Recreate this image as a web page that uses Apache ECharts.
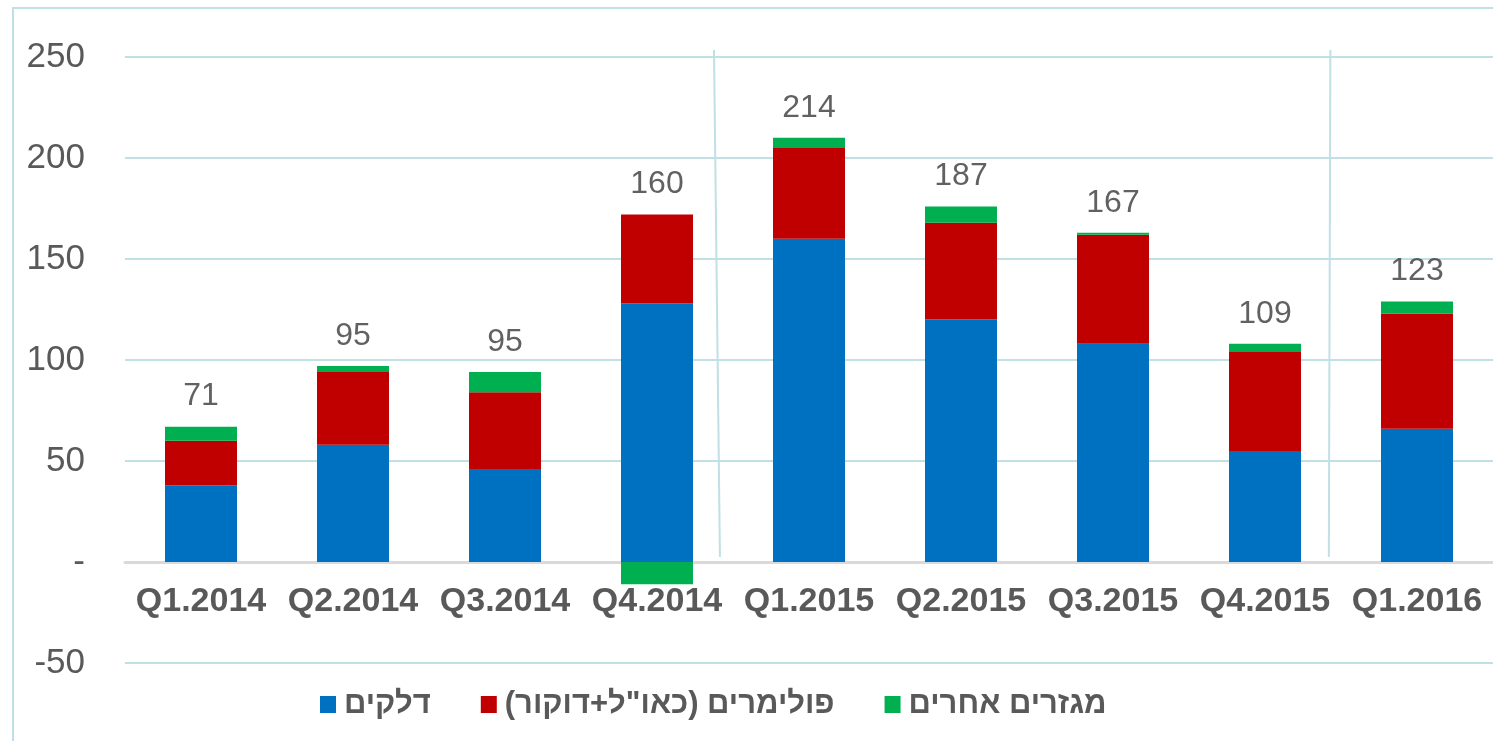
<!DOCTYPE html>
<html>
<head>
<meta charset="utf-8">
<script src="https://cdn.jsdelivr.net/npm/echarts@6/dist/echarts.min.js"></script>
<style>
    html, body {
        margin: 0;
        padding: 0;
        background: #fff;
    }

    .frame {
        position: absolute;
        left: 12px;
        top: 7px;
        width: 1500px;
        height: 760px;
        border-left: 2px solid #bfe0e5;
        border-top: 2px solid #bfe0e5;
    }

    #chart {
        position: absolute;
        left: 0;
        top: 0;
        width: 1493px;
        height: 741px;
    }
</style>
</head>
<body>
<div class="frame"></div>
<div id="chart"></div>
<script>
const quarters = ['Q1.2014', 'Q2.2014', 'Q3.2014', 'Q4.2014', 'Q1.2015', 'Q2.2015', 'Q3.2015', 'Q4.2015', 'Q1.2016']
const fuels = [38, 58, 46, 128, 160, 120, 108, 55, 66]
const polymers = [22, 36, 38, 44, 45, 48, 54, 49, 57]
const others = [7, 3, 10, -11, 5, 8, 1, 4, 6]
const totals = [71, 95, 95, 160, 214, 187, 167, 109, 123]
const yTicks = [-50, 0, 50, 100, 150, 200, 250]
const legendNames = ['דלקים', 'פולימרים (כאו"ל+דוקור)', 'מגזרים אחרים']
// separator lines between years, in (category index, value) units
const sep1 = [[3.375, 253.5], [3.414, 2.5]]
const sep2 = [[7.43, 253.5], [7.42, 2.5]]

const colors = ['#0070c0', '#c00000', '#00b050']
const gridColor = '#bfe0e5'
const textFont = '"Liberation Sans", Arial, sans-serif'

// label sits just above the positive part of the stack
const stackTops = quarters.map((q, i) => fuels[i] + polymers[i] + Math.max(others[i], 0))

const chart = echarts.init(document.getElementById('chart'))

const barSeries = [fuels, polymers, others].map((arr, i) => {
    return {
        name: legendNames[i],
        type: 'bar',
        stack: 'total',
        barWidth: 72,
        itemStyle: {color: colors[i]},
        data: arr
    }
})

function sepLine(data) {
    return {
        type: 'line',
        xAxisIndex: 1,
        silent: true,
        clip: false,
        symbol: 'none',
        lineStyle: {color: gridColor, width: 2},
        data: data
    }
}

// grid is 606px tall for 300 units -> zero line sits 101px above the bottom
const zeroOffset = -606 * (0 - yTicks[0]) / (yTicks[yTicks.length - 1] - yTicks[0])

const option = {
    backgroundColor: 'transparent',
    animation: false,
    grid: {
        left: 125,
        right: 0,
        top: 57,
        bottom: 78,
        containLabel: false
    },
    legend: {
        data: legendNames,
        bottom: 16,
        left: 315,
        icon: 'rect',
        itemWidth: 16,
        itemHeight: 17,
        itemGap: 50,
        textStyle: {
            fontFamily: textFont,
            fontSize: 31,
            fontWeight: 'bold',
            color: '#595959',
            padding: [0, 0, 0, 3]
        }
    },
    xAxis: [
        {
            type: 'category',
            data: quarters,
            position: 'bottom',
            offset: zeroOffset,
            axisTick: {show: false},
            axisLine: {onZero: false, lineStyle: {color: '#d9d9d9', width: 3}},
            axisLabel: {
                interval: 0,
                margin: 23,
                fontFamily: textFont,
                fontSize: 34,
                fontWeight: 'bold',
                color: '#595959'
            }
        },
        {
            type: 'value',
            show: false,
            min: -0.5,
            max: quarters.length - 0.5
        }
    ],
    yAxis: {
        type: 'value',
        min: yTicks[0],
        max: yTicks[yTicks.length - 1],
        interval: 50,
        axisLine: {show: false},
        axisTick: {show: false},
        splitLine: {lineStyle: {color: gridColor, width: 2}},
        axisLabel: {
            margin: 40,
            fontFamily: textFont,
            fontSize: 35,
            color: '#595959',
            formatter: v => v === 0 ? '-' : String(v)
        }
    },
    series: [
        ...barSeries,
        {
            type: 'scatter',
            silent: true,
            symbolSize: 0,
            data: stackTops,
            z: 5,
            label: {
                show: true,
                position: 'top',
                distance: 14,
                fontFamily: textFont,
                fontSize: 32,
                color: '#3a3a3a',
                formatter: p => String(totals[p.dataIndex])
            }
        },
        sepLine(sep1),
        sepLine(sep2)
    ]
}

chart.setOption(option)
</script>
</body>
</html>
